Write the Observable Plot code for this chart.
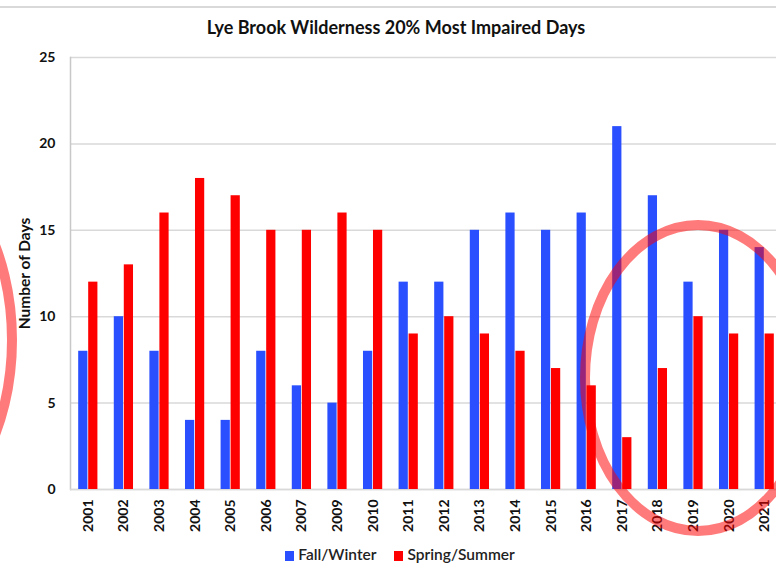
<!DOCTYPE html>
<html><head><meta charset="utf-8">
<script src="https://cdn.jsdelivr.net/npm/d3@7"></script>
<script src="https://cdn.jsdelivr.net/npm/@observablehq/plot@0.6"></script>
<style>
html,body{margin:0;padding:0;background:#fff;overflow:hidden;}
#wrap{position:relative;width:776px;height:576px;overflow:hidden;font-family:Lato,"Open Sans",sans-serif;}
#border{position:absolute;left:0;top:6px;width:776px;height:0;border-top:2px solid #d9d9d9;}
#title{position:absolute;left:0;width:792px;top:16px;text-align:center;font-weight:700;font-size:18px;color:#111;}
#chart{position:absolute;left:0;top:40px;width:800px;}
#chart svg{max-width:none !important;}
#legend{position:absolute;top:545px;left:0;width:800px;text-align:center;font-size:15.5px;font-weight:600;color:#222;}
#legend span.sw{display:inline-block;width:9px;height:10px;margin-right:4px;vertical-align:-1px;}
#legend span.item{margin:0 9px;}
#overlay{position:absolute;left:0;top:0;pointer-events:none;}
</style></head>
<body><div id="wrap">
<div id="border"></div>
<div id="title">Lye Brook Wilderness 20% Most Impaired Days</div>
<div id="chart"></div>
<div id="legend"></div>
</div>
<script>
const years = ["2001","2002","2003","2004","2005","2006","2007","2009","2010","2011","2012","2013","2014","2015","2016","2017","2018","2019","2020","2021"];
const fallWinter = [8,10,8,4,4,8,6,5,8,12,12,15,16,15,16,21,17,12,15,14];
const springSummer = [12,13,16,18,17,15,15,16,15,9,10,9,8,7,6,3,7,10,9,9];
const seriesNames = ["Fall/Winter","Spring/Summer"];
const seriesColors = ["#2a4fff","#ff0000"];
const yTicks = [0,5,10,15,20,25];

const fw = years.map((y,i)=>({year:y, value:fallWinter[i]}));
const ss = years.map((y,i)=>({year:y, value:springSummer[i]}));

const chart = Plot.plot({
  width: 790, height: 499,
  marginLeft: 70, marginRight: 8, marginTop: 17, marginBottom: 50,
  style: {fontFamily: "Lato, 'Open Sans', sans-serif", color: "#111", background: "transparent", maxWidth: "none"},
  x: {domain: years, paddingInner: 0.46, paddingOuter: 0.23, round: false, label: null},
  y: {domain: [0,25], label: null},
  marks: [
    Plot.gridY(yTicks, {stroke: "#d9d9d9", strokeOpacity: 1, strokeWidth: 1.5}),
    Plot.frame({anchor: "left", stroke: "#c8c8c8", strokeWidth: 1.5}),
    Plot.ruleY([0], {stroke: "#d9d9d9", strokeWidth: 1.5}),
    Plot.barY(fw, {x: "year", y: "value", fill: seriesColors[0], insetLeft: 0, insetRight: 10}),
    Plot.barY(ss, {x: "year", y: "value", fill: seriesColors[1], insetLeft: 10, insetRight: 0}),
    Plot.axisY(yTicks, {tickSize: 0, tickPadding: 15, fontSize: 14, fontWeight: "bold", label: null}),
    Plot.axisX({tickSize: 0, tickPadding: 10, tickRotate: -90, fontSize: 14, fontWeight: "bold", label: null}),
    Plot.text(["Number of Days"], {frameAnchor: "left", textAnchor: "middle", rotate: -90, dx: -45, fontSize: 15.5, fontWeight: "bold", fill: "#111"})
  ]
});
document.getElementById("chart").appendChild(chart);

document.getElementById("legend").innerHTML = seriesNames.map((n,i)=>
  `<span class="item"><span class="sw" style="background:${seriesColors[i]}"></span>${n}</span>`).join("");

// annotation circles (hand-drawn highlight in the reference)
const ns = "http://www.w3.org/2000/svg";
const ov = document.createElementNS(ns, "svg");
ov.setAttribute("id","overlay"); ov.setAttribute("width",776); ov.setAttribute("height",576);
[[-95,340,107,175],[698,378,113,153]].forEach(([cx,cy,rx,ry])=>{
  const e = document.createElementNS(ns,"ellipse");
  e.setAttribute("cx",cx);e.setAttribute("cy",cy);e.setAttribute("rx",rx);e.setAttribute("ry",ry);
  e.setAttribute("fill","none");e.setAttribute("stroke","rgba(255,0,0,0.52)");e.setAttribute("stroke-width",10);
  ov.appendChild(e);
});
document.getElementById("wrap").appendChild(ov);
</script>
</body></html>
